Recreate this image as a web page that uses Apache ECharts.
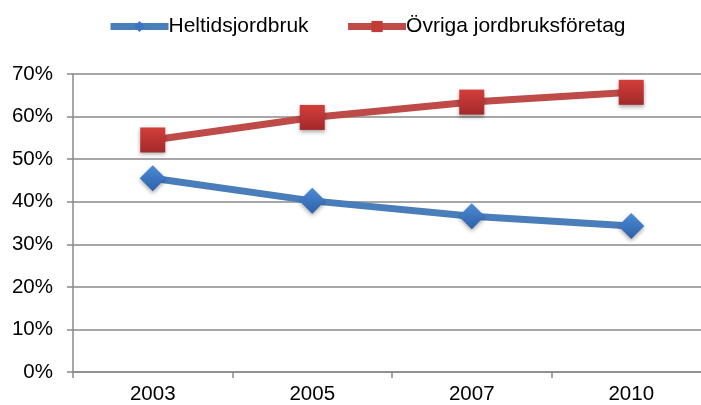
<!DOCTYPE html>
<html>
<head>
<meta charset="utf-8">
<script src="https://cdn.jsdelivr.net/npm/echarts@6/dist/echarts.min.js"></script>
<style>
  html, body { margin: 0; padding: 0; background: #fff; }
  #myEcharts { width: 701px; height: 405px; }
</style>
</head>
<body>
<div id="myEcharts"></div>
<script>
// data
const years = ['2003', '2005', '2007', '2010'];
const heltid = [45.5, 40.2, 36.6, 34.3];
const ovriga = [54.5, 59.8, 63.4, 65.7];
const seriesNames = ['Heltidsjordbruk', 'Övriga jordbruksföretag'];

const font = '"Liberation Sans", Arial, sans-serif';

// marker fill, lighter at top like the original
function grad(top, bottom) {
  return new echarts.graphic.LinearGradient(0, 0, 0, 1, [
    { offset: 0, color: top },
    { offset: 1, color: bottom }
  ]);
}

function initChart() {
  let chart = echarts.init(document.getElementById('myEcharts'));
  chart.setOption({
    animation: false,
    textStyle: { fontFamily: font },
    legend: {
      top: 16,
      left: 107,
      padding: 0,
      itemWidth: 58,
      itemHeight: 14,
      itemGap: 36,
      lineStyle: { width: 7 },
      textStyle: { fontSize: 21, color: '#000', fontFamily: font, padding: [0, 0, 0, -5] },
      data: [
        { name: seriesNames[0], itemStyle: { color: '#3c74c0' } },
        { name: seriesNames[1], itemStyle: { color: '#c23b37' } }
      ]
    },
    grid: {
      top: 74,
      left: 73,
      width: 638,
      bottom: 33,
      outerBoundsMode: 'none'
    },
    xAxis: {
      type: 'category',
      data: years,
      boundaryGap: true,
      axisLine: { lineStyle: { color: '#8a8a8a', width: 1.5 } },
      axisTick: { show: true, length: 6, lineStyle: { color: '#8a8a8a', width: 1.5 } },
      axisLabel: { fontSize: 20.5, color: '#000', margin: 12, fontFamily: font }
    },
    yAxis: {
      type: 'value',
      min: 0,
      max: 70,
      interval: 10,
      axisLine: { show: true, lineStyle: { color: '#8a8a8a', width: 1.5 } },
      axisTick: { show: true, length: 6, lineStyle: { color: '#8a8a8a', width: 1.5 } },
      splitLine: { lineStyle: { color: '#8a8a8a', width: 1.5 } },
      axisLabel: { formatter: '{value}%', fontSize: 20.5, color: '#000', margin: 20, fontFamily: font }
    },
    series: [
      {
        name: seriesNames[0],
        type: 'line',
        data: heltid,
        symbol: 'diamond',
        symbolSize: 26,
        lineStyle: { color: '#4a7ebb', width: 7 },
        itemStyle: { color: grad('#4d8ad6', '#2c62a9'), shadowBlur: 4, shadowColor: 'rgba(0,0,0,0.35)', shadowOffsetY: 2 }
      },
      {
        name: seriesNames[1],
        type: 'line',
        data: ovriga,
        symbol: 'rect',
        symbolSize: 25,
        lineStyle: { color: '#be4b48', width: 7 },
        itemStyle: { color: grad('#d33e3a', '#a3292a'), shadowBlur: 4, shadowColor: 'rgba(0,0,0,0.35)', shadowOffsetY: 2 }
      }
    ]
  });
}

initChart();
</script>
</body>
</html>
